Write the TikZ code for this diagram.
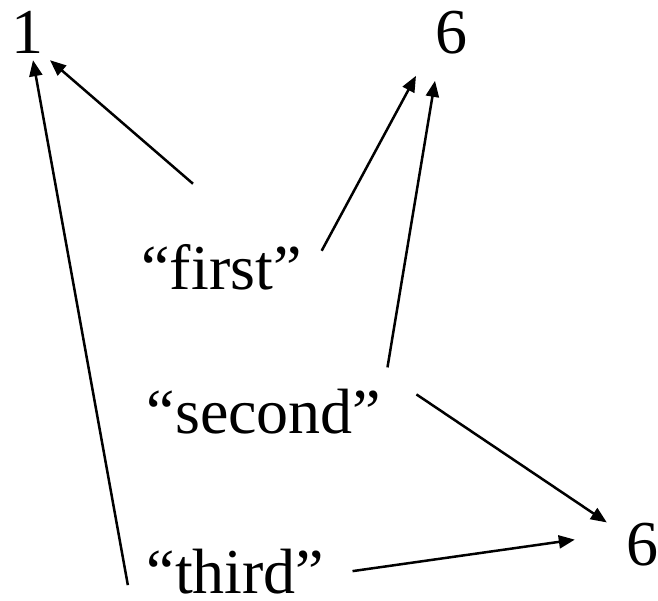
\documentclass[tikz,border=0pt]{standalone}
\usepackage{fontspec}
\setmainfont{Liberation Serif}
\usetikzlibrary{arrows.meta}

\begin{document}
\begin{tikzpicture}[x=1pt, y=-1pt,
    lbl/.style={anchor=base, inner sep=0pt, font=\fontsize{64}{70}\selectfont},
    arr/.style={line width=2.5pt, -{Triangle[length=16pt, width=13pt]}}]
    \useasboundingbox (0,0) rectangle (658,600);

    % Labels
    \node[lbl] (one) at (28,53) {1};
    \node[lbl] (sixtop) at (451,53) {6};
    \node[lbl] (first) at (221.5,289) {“first”};
    \node[lbl] (second) at (264,433) {“second”};
    \node[lbl] (third) at (235.5,593) {“third”};
    \node[lbl] (sixbot) at (642,565) {6};

    % Arrows
    \draw[arr] ([shift={(-28.5,-60)}]first.north) -- ([shift={(22,7)}]one.south);
    \draw[arr] ([shift={(20,-16)}]first.east) -- ([shift={(-35,22)}]sixtop.south);
    \draw[arr] ([shift={(6,-21)}]second.north east) -- ([shift={(-16,27)}]sixtop.south);
    \draw[arr] ([shift={(35,6)}]second.north east) -- ([shift={(-19,0)}]sixbot.north west);
    \draw[arr] ([shift={(-18.6,14)}]third.west) -- ([shift={(5,7)}]one.south);
    \draw[arr] ([shift={(28,0)}]third.east) -- ([shift={(-51,-4.5)}]sixbot.west);
\end{tikzpicture}
\end{document}
